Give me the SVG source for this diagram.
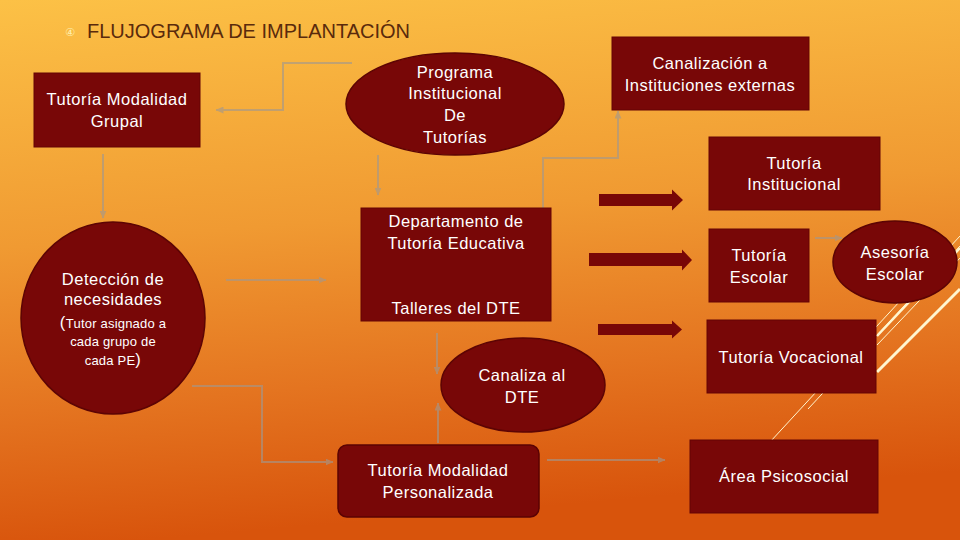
<svg xmlns="http://www.w3.org/2000/svg" width="960" height="540" viewBox="0 0 960 540">
  <defs>
    <linearGradient id="bg" x1="0" y1="0" x2="0.15" y2="1">
      <stop offset="0" stop-color="#fcc146"/>
      <stop offset="0.45" stop-color="#f09a32"/>
      <stop offset="0.75" stop-color="#e47420"/>
      <stop offset="1" stop-color="#d8540c"/>
    </linearGradient>
    <marker id="ah" viewBox="0 0 8 7" refX="7.5" refY="3.5" markerWidth="8" markerHeight="7" markerUnits="userSpaceOnUse" orient="auto">
      <path d="M0,0 L8,3.5 L0,7 z" fill="#a09890"/>
    </marker>
    <style>
      .box { fill: #780707; stroke: #650404; stroke-width: 1; }
      .ell { fill: #780707; stroke: #5c0404; stroke-width: 1.5; }
      .t { font-family: "Liberation Sans", Arial, sans-serif; font-size: 16.5px; letter-spacing: 0.5px; fill: #ffffff; text-anchor: middle; }
      .s { font-size: 13px; letter-spacing: 0.2px; }
      .conn { fill: none; stroke: #a09890; stroke-width: 2; }
      .blk { fill: #780707; }
      .deco { stroke: #fff6d0; fill: none; }
    </style>
  </defs>

  <rect width="960" height="540" fill="url(#bg)"/>

  <!-- decorative lines -->
  <g id="decoration">
    <line class="deco" x1="770" y1="442" x2="960" y2="236" stroke-width="1"/>
    <line class="deco" x1="808" y1="409" x2="960" y2="246" stroke-width="1"/>
    <line class="deco" x1="877" y1="336" x2="960" y2="248" stroke-width="2.5"/>
    <line class="deco" x1="877" y1="345" x2="960" y2="258" stroke-width="1"/>
    <line class="deco" x1="877" y1="372" x2="960" y2="289" stroke-width="3"/>
  </g>

  <!-- title -->
  <g id="title">
    <text x="70" y="36" font-family="'DejaVu Sans', sans-serif" font-size="11" fill="#fff0b0" text-anchor="middle">④</text>
    <text x="87" y="38" font-family="'Liberation Sans', Arial, sans-serif" font-size="20" fill="#5a2a0c">FLUJOGRAMA DE IMPLANTACIÓN</text>
  </g>

  <!-- connectors -->
  <g id="connectors" opacity="0.62">
    <polyline class="conn" points="352,63 283,63 283,110 216,110" marker-end="url(#ah)"/>
    <polyline class="conn" points="378,155 378,195" marker-end="url(#ah)"/>
    <polyline class="conn" points="543,208 543,158 618,158 618,111" marker-end="url(#ah)"/>
    <polyline class="conn" points="103,154 103,218" marker-end="url(#ah)"/>
    <polyline class="conn" points="226,280 326,280" marker-end="url(#ah)"/>
    <polyline class="conn" points="192,386 262,386 262,462 333,462" marker-end="url(#ah)"/>
    <polyline class="conn" points="437,333 437,374" marker-end="url(#ah)"/>
    <polyline class="conn" points="438,443 438,403" marker-end="url(#ah)"/>
    <polyline class="conn" points="547,460 665,460" marker-end="url(#ah)"/>
    <polyline class="conn" points="815,238 842,238" marker-end="url(#ah)"/>
  </g>
  <g id="block-arrows">
    <path class="blk" d="M599,194 H672 V189.5 L683,200 L672,210.5 V206 H599 Z"/>
    <path class="blk" d="M589,253 H682 V249.5 L692,260 L682,270.5 V266 H589 Z"/>
    <path class="blk" d="M598,324 H672 V320.5 L682,329.5 L672,338.5 V335 H598 Z"/>
  </g>

  <!-- nodes -->
  <g id="n-grupal">
    <rect class="box" x="34" y="73" width="166" height="74"/>
    <text class="t" x="117" y="105">Tutoría Modalidad</text>
    <text class="t" x="117" y="127">Grupal</text>
  </g>
  <g id="n-programa">
    <ellipse class="ell" cx="455" cy="104" rx="109" ry="51"/>
    <text class="t" x="455" y="78">Programa</text>
    <text class="t" x="455" y="99">Institucional</text>
    <text class="t" x="455" y="121">De</text>
    <text class="t" x="455" y="143">Tutorías</text>
  </g>
  <g id="n-canalizacion">
    <rect class="box" x="612" y="37" width="197" height="73"/>
    <text class="t" x="710" y="69">Canalización a</text>
    <text class="t" x="710" y="91">Instituciones externas</text>
  </g>
  <g id="n-institucional">
    <rect class="box" x="709" y="137" width="171" height="73"/>
    <text class="t" x="794" y="169">Tutoría</text>
    <text class="t" x="794" y="190">Institucional</text>
  </g>
  <g id="n-departamento">
    <rect class="box" x="361" y="208" width="190" height="113"/>
    <text class="t" x="456" y="227">Departamento de</text>
    <text class="t" x="456" y="249">Tutoría Educativa</text>
    <text class="t" x="456" y="314">Talleres del DTE</text>
  </g>
  <g id="n-deteccion">
    <ellipse class="ell" cx="113" cy="318" rx="92" ry="96"/>
    <text class="t" x="113" y="285">Detección de</text>
    <text class="t" x="113" y="305">necesidades</text>
    <text class="t" x="113" y="328"><tspan>(</tspan><tspan class="s">Tutor asignado a</tspan></text>
    <text class="t s" x="113" y="346">cada grupo de</text>
    <text class="t" x="113" y="365"><tspan class="s">cada PE</tspan><tspan>)</tspan></text>
  </g>
  <g id="n-canaliza-dte">
    <ellipse class="ell" cx="523" cy="385" rx="82" ry="47"/>
    <text class="t" x="522" y="381">Canaliza al</text>
    <text class="t" x="522" y="403">DTE</text>
  </g>
  <g id="n-personalizada">
    <rect x="338" y="445" width="201" height="72" rx="9" fill="#780707" stroke="#5a0303" stroke-width="1.5"/>
    <text class="t" x="438" y="476">Tutoría Modalidad</text>
    <text class="t" x="438" y="498">Personalizada</text>
  </g>
  <g id="n-escolar">
    <rect class="box" x="709" y="229" width="100" height="73"/>
    <text class="t" x="759" y="261">Tutoría</text>
    <text class="t" x="759" y="283">Escolar</text>
  </g>
  <g id="n-asesoria">
    <ellipse class="ell" cx="895" cy="262" rx="62" ry="41"/>
    <text class="t" x="895" y="258">Asesoría</text>
    <text class="t" x="895" y="280">Escolar</text>
  </g>
  <g id="n-vocacional">
    <rect class="box" x="707" y="320" width="169" height="73"/>
    <text class="t" x="791" y="363">Tutoría Vocacional</text>
  </g>
  <g id="n-psicosocial">
    <rect class="box" x="690" y="440" width="188" height="73"/>
    <text class="t" x="784" y="482">Área Psicosocial</text>
  </g>
</svg>
